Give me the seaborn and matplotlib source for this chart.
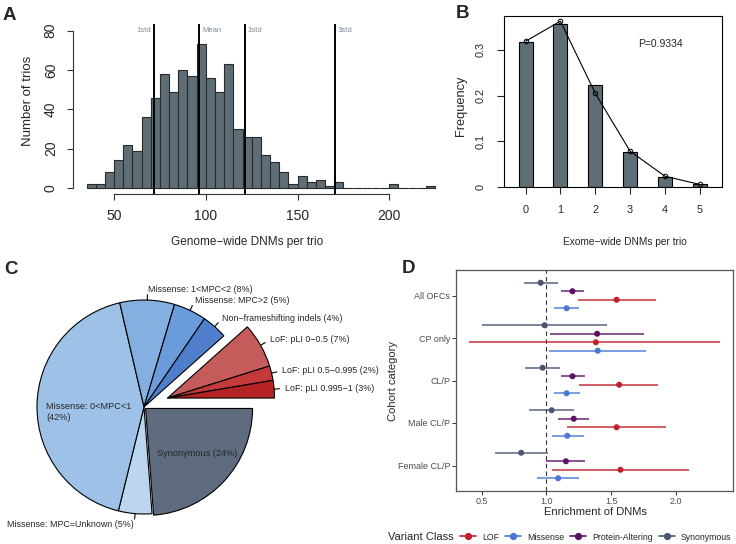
import numpy as np
import pandas as pd
import matplotlib
matplotlib.use("Agg")
import matplotlib.pyplot as plt
from matplotlib.lines import Line2D
import seaborn as sns

W, H = 736, 544

# ---------------- data ----------------
# A: genome-wide DNMs per trio, 5-wide bins starting at 35
bin_start = 35
bin_width = 5
trio_counts = [2, 2, 8, 14, 22, 19, 36, 46, 58, 49, 60, 57, 73, 56, 49, 63, 30, 26, 26, 17,
               13, 8, 2, 6, 3, 4, 1, 3, 0, 0, 0, 0, 0, 2, 0, 0, 0, 1]
ref_values = [72.0, 96.5, 121.2, 170.6]
ref_labels = ["1std", "Mean", "1std", "3std"]
ref_left = [True, False, False, False]

# B: exome-wide DNMs per trio (observed vs expected)
exome_k = [0, 1, 2, 3, 4, 5]
exome_obs = [0.317, 0.356, 0.224, 0.076, 0.022, 0.005]
exome_exp = [0.319, 0.363, 0.205, 0.078, 0.023, 0.005]
p_text = "P=0.9334"

# C: DNM classes
pie_names = ["Synonymous (24%)", "Missense: MPC=Unknown (5%)", "Missense: 0<MPC<1\n(42%)",
             "Missense: 1<MPC<2 (8%)", "Missense: MPC>2 (5%)", "Non\u2212frameshifting indels (4%)",
             "LoF: pLI 0\u22120.5 (7%)", "LoF: pLI 0.5\u22120.995 (2%)", "LoF: pLI 0.995\u22121 (3%)"]
pie_share = [23.8, 5.05, 42.5, 8.25, 4.95, 3.85, 6.75, 2.2, 2.64]
pie_colors = ["#5f6b7f", "#bdd6ef", "#9dc1e7", "#84afe1", "#6a9bdb", "#4f7fcc",
              "#c65b5b", "#c43a3a", "#b52323"]
pie_is_lof = [False, False, False, False, False, False, True, True, True]

# D: enrichment by cohort
cohorts = ["All OFCs", "CP only", "CL/P", "Male CL/P", "Female CL/P"]
classes = ["LOF", "Missense", "Protein-Altering", "Synonymous"]
est_lof = [1.54, 1.38, 1.56, 1.54, 1.57]
lo_lof = [1.24, 0.40, 1.25, 1.16, 1.04]
hi_lof = [1.84, 2.34, 1.86, 1.92, 2.10]
est_mis = [1.155, 1.395, 1.155, 1.16, 1.09]
lo_mis = [1.06, 1.02, 1.055, 1.04, 0.93]
hi_mis = [1.25, 1.77, 1.255, 1.29, 1.25]
est_pa = [1.20, 1.39, 1.20, 1.21, 1.15]
lo_pa = [1.11, 1.03, 1.11, 1.09, 1.00]
hi_pa = [1.29, 1.75, 1.30, 1.33, 1.30]
est_syn = [0.955, 0.985, 0.97, 1.04, 0.805]
lo_syn = [0.83, 0.50, 0.835, 0.865, 0.60]
hi_syn = [1.09, 1.47, 1.105, 1.21, 1.015]

class_colors = {"LOF": "#c0202c", "Missense": "#4a78d2",
                "Protein-Altering": "#5c1264", "Synonymous": "#4b5672"}
bar_grey = "#5f6e76"

sns.set_style("ticks")
plt.rcParams["font.family"] = ["Liberation Sans", "DejaVu Sans"]

fig = plt.figure(figsize=(W / 100, H / 100), dpi=100)


def rect(l, t, r, b):
    return [l / W, 1 - b / H, (r - l) / W, (b - t) / H]


def ftext(x, y, s, **kw):
    return fig.text(x / W, 1 - y / H, s, **kw)


# ---------------- A ----------------
axA = fig.add_axes(rect(72.7, 24.4, 449, 194.3))
bin_end = bin_start + bin_width * len(trio_counts)
mids = bin_start + bin_width * (np.arange(len(trio_counts)) + 0.5)
hist_df = pd.DataFrame({"mid": mids, "n": trio_counts})
sns.histplot(data=hist_df, x="mid", weights="n", binwidth=bin_width,
             binrange=(bin_start, bin_end), color=bar_grey,
             edgecolor="#2a2a2a", linewidth=0.8, alpha=1, ax=axA)
span = bin_end - bin_start
axA.set_xlim(bin_start - 0.04 * span, bin_end + 0.04 * span)
axA.set_ylim(-0.04 * 80, 80 * 1.04)
for v, lab, left in zip(ref_values, ref_labels, ref_left):
    axA.axvline(v, color="black", lw=1.4, zorder=3)
    axA.annotate(lab, (v, 80), xytext=(-2 if left else 2, 0), textcoords="offset points",
                 ha="right" if left else "left", va="center", fontsize=5.5, color="#7d8b98")
axA.set_xticks([50, 100, 150, 200])
axA.set_yticks([0, 20, 40, 60, 80])
axA.set_xlabel("")
axA.set_ylabel("")
for s in ["top", "right"]:
    axA.spines[s].set_visible(False)
axA.spines["left"].set_bounds(0, 80)
axA.spines["bottom"].set_bounds(50, 200)
for s in ["left", "bottom"]:
    axA.spines[s].set_color("#333333")
    axA.spines[s].set_linewidth(0.8)
axA.tick_params(axis="x", length=4.5, width=0.8, color="#333333", labelsize=10, pad=6)
axA.tick_params(axis="y", length=4.5, width=0.8, color="#333333", labelsize=10, pad=6.2)
for t in axA.get_yticklabels():
    t.set_rotation(90)
    t.set_va("center")
ftext(247, 242, "Genome\u2212wide DNMs per trio", ha="center", va="center", fontsize=8.5)
ftext(28, 101, "Number of trios", ha="center", va="center", rotation=90, fontsize=9.5)

# ---------------- B ----------------
axB = fig.add_axes(rect(504, 16, 722, 186.7))
sns.barplot(x=exome_k, y=exome_obs, native_scale=True, width=0.4, color=bar_grey,
            saturation=1, edgecolor="black", linewidth=0.8, errorbar=None, ax=axB)
axB.plot(exome_k, exome_exp, color="black", lw=0.8, marker="o", ms=3.3,
         mfc="none", mec="black", mew=0.7, zorder=4)
axB.set_xlim(-0.62, 5.64)
axB.set_ylim(0, 0.3744)
axB.set_xticks(exome_k)
axB.set_xticklabels([str(k) for k in exome_k])
axB.set_yticks([0, 0.1, 0.2, 0.3])
axB.set_yticklabels(["0", "0.1", "0.2", "0.3"])
for s in axB.spines.values():
    s.set_visible(True)
    s.set_color("black")
    s.set_linewidth(0.8)
axB.tick_params(axis="x", length=5, width=0.8, labelsize=7.8, pad=8)
axB.tick_params(axis="y", length=5, width=0.8, labelsize=7.8, pad=7.9)
for t in axB.get_yticklabels():
    t.set_rotation(90)
    t.set_va("center")
axB.set_xlabel("")
axB.set_ylabel("")
axB.text(3.23, 0.313, p_text, ha="left", va="center", fontsize=7.5)
ftext(625, 242, "Exome\u2212wide DNMs per trio", ha="center", va="center", fontsize=7.3)
ftext(461, 106, "Frequency", ha="center", va="center", rotation=90, fontsize=9.2)

# ---------------- C ----------------
R_PX = 107.0
cx, cy = 144, 407
pl, pt, pr, pb = 0, 285, 370, 544
axC = fig.add_axes(rect(pl, pt, pr, pb))
wedges, _ = axC.pie(pie_share, colors=pie_colors, startangle=0, counterclock=False,
                    radius=1, wedgeprops=dict(edgecolor="black", linewidth=0.8))
axC.set_aspect("auto")
axC.set_xlim((pl - cx) / R_PX, (pr - cx) / R_PX)
axC.set_ylim((cy - pb) / R_PX, (cy - pt) / R_PX)

lof_w = [w for w, f in zip(wedges, pie_is_lof) if f]
g_mid = np.deg2rad((min(w.theta1 for w in lof_w) + max(w.theta2 for w in lof_w)) / 2)
lof_shift = (0.235 * np.cos(g_mid), 0.235 * np.sin(g_mid))
for w in lof_w:
    w.set_center(lof_shift)
syn_mid = np.deg2rad((wedges[0].theta1 + wedges[0].theta2) / 2)
wedges[0].set_center((0.02 * np.cos(syn_mid), 0.02 * np.sin(syn_mid)))

inside = {0: (0.121, -0.43, "left"), 2: (-0.916, -0.05, "left")}
for i, (w, name) in enumerate(zip(wedges, pie_names)):
    if i in inside:
        x, y, ha = inside[i]
        axC.text(x, y, name, ha=ha, va="center", fontsize=6.6, linespacing=1.25)
        continue
    m = np.deg2rad((w.theta1 + w.theta2) / 2)
    ux, uy = np.cos(m), np.sin(m)
    ox, oy = w.center
    axC.plot([ox + ux, ox + 1.05 * ux], [oy + uy, oy + 1.05 * uy], color="black", lw=0.8)
    axC.text(ox + 1.1 * ux, oy + 1.1 * uy, name, ha="left" if ux >= 0 else "right",
             va="center", fontsize=6.4)

# ---------------- D ----------------
dodge = {"Synonymous": -0.3, "Protein-Altering": -0.1, "LOF": 0.1, "Missense": 0.3}
rows = []
for cls, est, lo, hi in [("LOF", est_lof, lo_lof, hi_lof), ("Missense", est_mis, lo_mis, hi_mis),
                         ("Protein-Altering", est_pa, lo_pa, hi_pa),
                         ("Synonymous", est_syn, lo_syn, hi_syn)]:
    for j, c in enumerate(cohorts):
        rows.append(dict(cohort=c, cls=cls, est=est[j], lo=lo[j], hi=hi[j], y=j + dodge[cls]))
df = pd.DataFrame(rows)

axD = fig.add_axes(rect(456, 270, 733, 491))
axD.axvline(1.0, color="#333333", lw=0.8, ls=(0, (4, 3)), zorder=1)
for cls, g in df.groupby("cls"):
    axD.hlines(g["y"], g["lo"], g["hi"], color=class_colors[cls], lw=1.2, alpha=0.85, zorder=2)
sns.scatterplot(data=df, x="est", y="y", hue="cls", palette=class_colors, s=19,
                linewidth=0, legend=False, ax=axD, zorder=3)
xr = df["hi"].max() - df["lo"].min()
axD.set_xlim(df["lo"].min() - 0.05 * xr, df["hi"].max() + 0.05 * xr)
axD.set_ylim(len(cohorts) - 0.4, -0.6)
axD.set_yticks(range(len(cohorts)))
axD.set_yticklabels(cohorts)
axD.set_xticks([0.5, 1.0, 1.5, 2.0])
axD.set_xticklabels(["0.5", "1.0", "1.5", "2.0"])
axD.set_xlabel("")
axD.set_ylabel("")
for s in axD.spines.values():
    s.set_visible(True)
    s.set_color("#555555")
    s.set_linewidth(0.9)
axD.tick_params(length=2.75, width=0.7, color="#333333", labelcolor="#4d4d4d",
                labelsize=6.5, pad=1.5)
ftext(595, 512, "Enrichment of DNMs", ha="center", va="center", fontsize=8)
ftext(393, 381, "Cohort category", ha="center", va="center", rotation=90, fontsize=8)

handles = [Line2D([0], [0], color=class_colors[c], lw=1.2, marker="o", ms=4.2) for c in classes]
fig.legend(handles, classes, ncol=4, loc="center left", bbox_to_anchor=(460 / W, 1 - 537 / H),
           frameon=False, fontsize=6.3, handlelength=1.8, handletextpad=0.7,
           columnspacing=0.7, borderaxespad=0, borderpad=0)
ftext(388, 537, "Variant Class", ha="left", va="center", fontsize=8)

# ---------------- panel letters ----------------
for lx, ly, letter in [(3, 20, "A"), (456, 18, "B"), (4, 274, "C"), (402, 273, "D")]:
    ftext(lx, ly, letter, ha="left", va="baseline", fontsize=13.5, fontweight="bold")

fig.savefig("out.png", dpi=100)
